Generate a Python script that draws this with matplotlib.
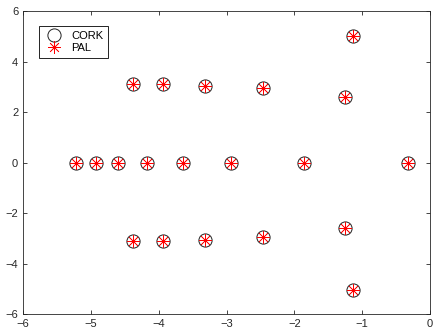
import numpy as np
import matplotlib
matplotlib.use("Agg")
import matplotlib.pyplot as plt

re_vals = [-1.13, -2.456, -1.25, -4.38, -3.93, -3.316,
           -5.218, -4.928, -4.594, -4.167, -3.636, -2.932, -1.851, -0.317,
           -4.38, -3.93, -3.316, -2.456, -1.25, -1.13]
im_vals = [5.03, 2.95, 2.58, 3.10, 3.10, 3.04,
           0, 0, 0, 0, 0, 0, 0, 0,
           -3.10, -3.10, -3.04, -2.95, -2.58, -5.03]
x_ticks = [-6, -5, -4, -3, -2, -1, 0]
y_ticks = [-6, -4, -2, 0, 2, 4, 6]

plt.rcParams['font.family'] = ['Liberation Sans', 'DejaVu Sans']

fig = plt.figure(figsize=(4.35, 3.33), dpi=100)
ax = fig.add_axes([0.053, 0.056, 0.9355, 0.911])

ax.plot(re_vals, im_vals, 'o', mfc='none', mec='#222222', ms=9.5, mew=0.7, label='CORK')
ax.plot(re_vals, im_vals, linestyle='none', marker=(8, 2, 0), color='red',
        ms=9, mew=0.5, label='PAL')

ax.set_xlim(-6, 0)
ax.set_ylim(-6, 6)
ax.set_xticks(x_ticks)
ax.set_yticks(y_ticks)
ax.tick_params(direction='in', top=True, right=True, labelsize=8,
               colors='#262626', length=3, width=0.6)
for sp in ax.spines.values():
    sp.set_color('#262626')
    sp.set_linewidth(0.6)

leg = ax.legend(loc='upper left', bbox_to_anchor=(0.039, 0.95), borderaxespad=0,
                fontsize=8, fancybox=False, framealpha=1, handlelength=2.0,
                handletextpad=0.5, borderpad=0.4, labelspacing=0.25)
leg.get_frame().set_edgecolor('black')
leg.get_frame().set_linewidth(0.6)

fig.savefig('out.png', dpi=100)
